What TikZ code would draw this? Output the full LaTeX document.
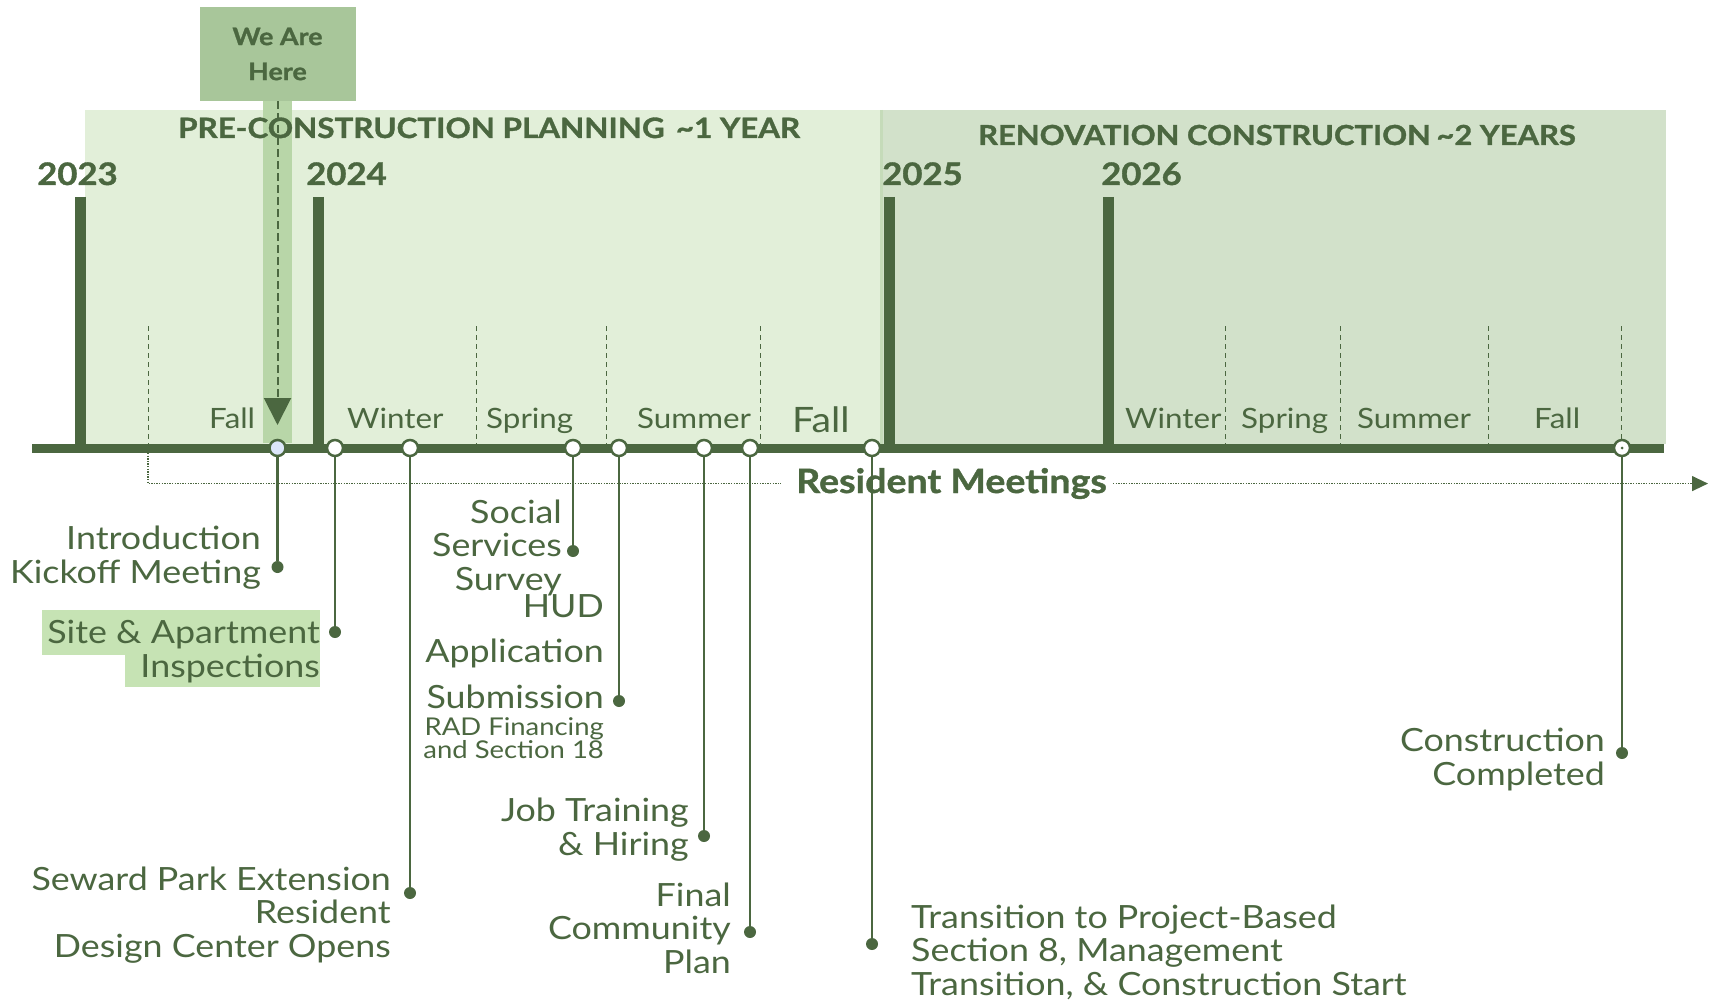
\documentclass[tikz,border=0pt]{standalone}
\usepackage{fontspec}
\setmainfont{Lato}[FakeStretch=1.12]
\newfontfamily\heavyfont{Lato}[FakeStretch=1.12, FakeBold=1.2]   % headings set a touch darker
\usetikzlibrary{positioning,
                arrows.meta}                % arrow tips

\definecolor{leaf}{HTML}{4B6740}
\definecolor{planband}{HTML}{E2EFD9}
\definecolor{buildband}{HTML}{D2E1CA}
\definecolor{seam}{HTML}{C5DBB9}
\definecolor{herefill}{HTML}{A8C69A}
\definecolor{herebar}{HTML}{B8D6A8}
\definecolor{marker}{HTML}{C6E3B4}
\definecolor{nowfill}{HTML}{DCE6FA}

\tikzset{
  yearbar/.style={leaf, line width=11pt},
  yearlbl/.style={text=leaf, inner sep=0pt, anchor=base west, font=\heavyfont\bfseries\fontsize{31}{31}\selectfont},
  phase/.style={text=leaf, inner sep=0pt, anchor=base west, font=\heavyfont\bfseries\fontsize{28}{28}\selectfont},
  season/.style={text=leaf, inner sep=0pt, anchor=base west, font=\fontsize{28}{28}\selectfont},
  divider/.style={leaf, line width=1pt, dash pattern=on 5pt off 4pt},
  dotline/.style={leaf, line width=1.3pt, dash pattern=on 1.3pt off 1.3pt},
  stopmark/.style={circle, draw=leaf, line width=2.5pt, minimum size=16pt, inner sep=0pt},
  evdot/.style={circle, fill=leaf, minimum size=12pt, inner sep=0pt},
  stem/.style={leaf, line width=2.5pt},
  % multi-line labels sit on the baseline of their last line
  evtext/.style={text=leaf, inner sep=0pt, align=right, anchor=base east, font=\fontsize{32}{33.5}\selectfont}
}

\begin{document}
\begin{tikzpicture}[x=1pt, y=-1pt]
  \useasboundingbox (0,0) rectangle (1713,1003);

  % the two phases
  \fill[planband] (85,110) rectangle (881,444);
  \fill[buildband] (881,110) rectangle (1666,444);
  \draw[seam, line width=3pt] (881,110) -- (881,444);

  % "we are here" marker
  \fill[herebar] (263,101) rectangle (292,443);
  \node[fill=herefill, text=leaf, align=center, minimum width=156pt, minimum height=94pt,
        font=\heavyfont\bfseries\fontsize{24}{35}\selectfont] (here) at (277.5,54) {We Are\\Here};
  \coordinate (here-tip) at (277.5,425);
  \draw[leaf, line width=2pt, dash pattern=on 8pt off 4pt, -{Triangle[length=27pt,width=27pt]}]
    (here.south) -- (here-tip);

  \node[phase] (plan) at (178,138) {PRE-CONSTRUCTION PLANNING\hspace{0.4em}\textasciitilde1 YEAR};
  \node[phase, font=\heavyfont\bfseries\fontsize{27.6}{28}\selectfont] (build) at (978,145)
    {RENOVATION CONSTRUCTION\hspace{0.2em}\textasciitilde2 YEARS};

  % seasons
  \foreach \x in {148,476,606,760,1225,1340,1488,1621}
    \draw[divider] (\x,326) -- (\x,444);
  \foreach \s/\x in {Fall/209, Winter/347, Spring/486, Summer/637,
                     Winter/1125, Spring/1241, Summer/1357, Fall/1534}
    \node[season] (season-\x) at (\x,428) {\s};
  \node[season, font=\fontsize{35}{35}\selectfont] (season-792) at (792,432) {Fall};

  % years
  \foreach \yr/\x/\lx in {2023/80/37, 2024/318/306, 2025/889/882, 2026/1108/1101} {
    \draw[yearbar] (\x,197) -- (\x,448);
    \node[yearlbl] (y\yr) at (\lx,185) {\yr};
  }

  \coordinate (t0) at (32,448);
  \coordinate (t1) at (1664,448);
  \draw[leaf, line width=9pt] (t0) -- (t1);

  % resident meetings run the whole way
  \node[text=leaf, anchor=base west, inner xsep=15pt, inner ysep=0pt,
        font=\heavyfont\bfseries\fontsize{33.5}{33.5}\selectfont] (rm) at (781,493) {Resident Meetings};
  \coordinate (rm-start) at (148,453);
  \coordinate (rm-end) at (1708,484);
  \draw[dotline] (rm-start) |- (rm.west);
  \draw[dotline, -{Triangle[length=16pt,width=15pt]}] ([xshift=-9pt]rm.east) -- (rm.east -| rm-end);

  % milestones
  \foreach \nm/\x/\y/\fc in {kick/277.5/567/nowfill, site/335/632/white, seward/410/893/white,
                             social/573/551/white, hud/619/701/white, job/704/836/white,
                             final/750/932/white, trans/872/944/white, done/1622/753/white} {
    \node[stopmark, fill=\fc] (c-\nm) at (\x,448) {};
    \node[evdot] (d-\nm) at (\x,\y) {};
    \draw[stem] (c-\nm) -- (d-\nm);
  }
  \fill[leaf] (c-done) circle (1.5pt);

  \fill[marker] (42,610) rectangle (320,655);
  \fill[marker] (125,655) rectangle (320,687);

  \node[evtext] (t-kick) at (261,583) {Introduction\\Kickoff Meeting};
  \node[evtext] (t-site) at (320,677) {Site \& Apartment\\Inspections};
  \node[evtext] (t-seward) at (391,957) {Seward Park Extension\\Resident\\Design Center Opens};
  \node[evtext] (t-social) at (562,590) {Social\\Services\\Survey};
  \node[evtext, font=\fontsize{32}{45.5}\selectfont] (t-hud) at (604,708) {HUD\\Application\\Submission};
  \node[evtext, font=\fontsize{24.5}{23}\selectfont] (t-rad) at (604,758) {RAD Financing\\and Section 18};
  \node[evtext] (t-job) at (689,855) {Job Training\\\& Hiring};
  \node[evtext] (t-final) at (731,973) {Final\\Community\\Plan};
  \node[evtext, align=left, anchor=base west] (t-trans) at (911,995)
    {Transition to Project-Based\\Section 8, Management\\Transition, \& Construction Start};
  \node[evtext] (t-done) at (1605,785) {Construction\\Completed};
\end{tikzpicture}
\end{document}
